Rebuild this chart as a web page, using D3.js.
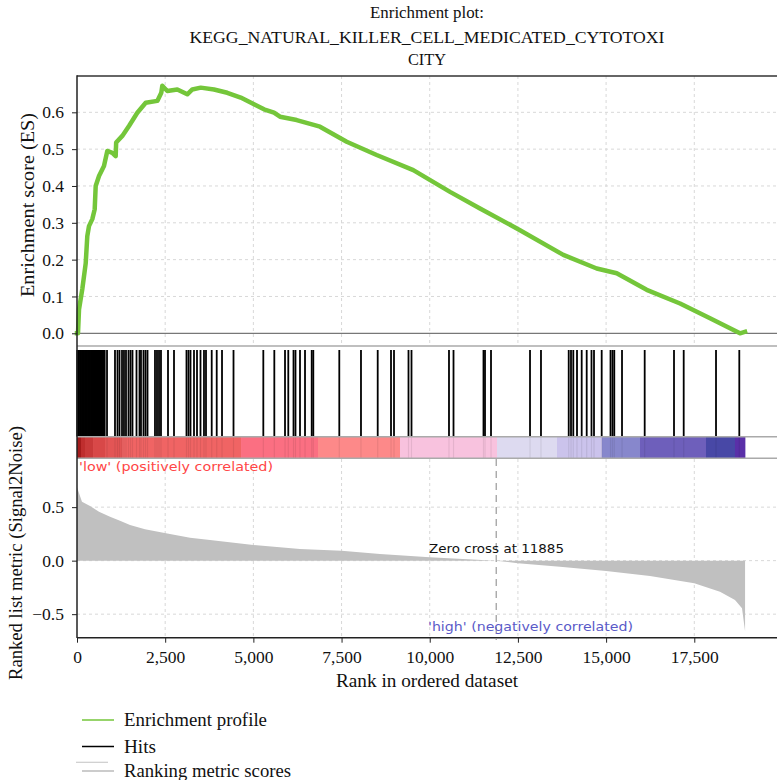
<!DOCTYPE html>
<html>
<head>
<meta charset="utf-8">
<script src="https://cdn.jsdelivr.net/npm/d3@7"></script>
<style>
  html, body { margin: 0; padding: 0; background: #fff; }
  svg { display: block; }
</style>
</head>
<body>
<svg id="chart" width="777" height="780"></svg>
<script>
// ---------- DATA ----------
const titleLines = ["Enrichment plot:", "KEGG_NATURAL_KILLER_CELL_MEDICATED_CYTOTOXI", "CITY"];

const xTicks = [0, 2500, 5000, 7500, 10000, 12500, 15000, 17500];
const esTicks = [0.0, 0.1, 0.2, 0.3, 0.4, 0.5, 0.6];
const metricTicks = [-0.5, 0.0, 0.5];

// Running enrichment score
const esRanks = [0, 28, 57, 150, 247, 292, 340, 434, 502, 530, 624, 765, 859, 1001, 1097, 1110, 1284, 1474, 1710, 1948, 2277, 2390, 2418, 2560, 2844, 3127, 3269, 3507, 3884, 4261, 4641, 5018, 5301, 5585, 5755, 6228, 6889, 7646, 8496, 9534, 10575, 11425, 12559, 13787, 14734, 15301, 16151, 17096, 17946, 18796, 18938];
const esValues = [0.0, 0.0, 0.065, 0.12, 0.19, 0.264, 0.291, 0.31, 0.337, 0.40, 0.427, 0.454, 0.495, 0.49, 0.481, 0.518, 0.536, 0.563, 0.599, 0.626, 0.631, 0.653, 0.672, 0.658, 0.662, 0.649, 0.662, 0.667, 0.662, 0.653, 0.640, 0.622, 0.608, 0.599, 0.588, 0.579, 0.561, 0.520, 0.484, 0.443, 0.384, 0.339, 0.280, 0.213, 0.176, 0.163, 0.118, 0.081, 0.041, 0.0, 0.004];

// Gene-set hits (ranks)
const hitRanks = [5, 30, 55, 85, 110, 140, 165, 195, 225, 250, 280, 310, 335, 365, 395, 420, 450, 480, 505, 535, 565, 590, 620, 650, 675, 705, 735, 760, 785,
  851, 1077, 1148, 1205, 1276, 1332, 1389, 1460, 1517, 1573, 1687, 1772, 1814, 1885, 1942, 1999, 2211, 2268, 2325, 2381, 2580, 2750,
  3104, 3161, 3218, 3317, 3402, 3501, 3600, 3657, 3819, 3961, 4111, 4437, 5282, 5594, 5897, 5990, 6138, 6194, 6322, 6464, 6654, 6699,
  7436, 8051, 8525, 8902, 8987, 9398, 9483, 10546, 10674, 11524, 11567, 11737, 12843, 13154, 13940, 14005, 14070, 14175, 14308, 14450,
  14586, 14657, 14875, 15125, 15181, 15232, 15451, 16094, 16925, 17200, 18116, 18776];

// Ranked list metric (Signal2Noise)
const metricRanks = [0, 141, 369, 624, 936, 1219, 1503, 1928, 2523, 3204, 3771, 5000, 6322, 7500, 8590, 10000, 11885, 12500, 13693, 15000, 16244, 17500, 18229, 18654, 18853, 18940];
const metricValues = [0.686, 0.551, 0.51, 0.458, 0.411, 0.374, 0.334, 0.293, 0.256, 0.215, 0.193, 0.147, 0.109, 0.093, 0.063, 0.032, 0.0, -0.024, -0.056, -0.096, -0.143, -0.211, -0.29, -0.367, -0.445, -0.66];

// Colour bar segments (start rank, colour)
const barStarts = [0, 113, 227, 454, 794, 1276, 4650, 6832, 9157, 11907, 13608, 14884, 15961, 17832, 18654];
const barColors = ["#a41c1c", "#bf2e2e", "#c93a3a", "#d84848", "#e35555", "#f06464", "#fb6f82", "#fd8989", "#f8c2de", "#dddaf0", "#cbc3ec", "#8787cc", "#6e5fbb", "#4848a6", "#5a30a8"];
const totalGenes = 18940;
const zeroCross = 11885;

const legendLabels = ["Enrichment profile", "Hits", "Ranking metric scores"];

// ---------- LAYOUT ----------
const svg = d3.select("#chart");
const serif = "'Liberation Serif', 'DejaVu Serif', serif";
const sans = "'DejaVu Sans', 'Liberation Sans', sans-serif";

const x = d3.scaleLinear().domain([0, 19845]).range([77, 777]);
const yES = d3.scaleLinear().domain([-0.0345, 0.6986]).range([346, 76]);
const yM = d3.scaleLinear().domain([-0.72, 0.95]).range([637.7, 459]);

const hitTop = 350, hitBottom = 436.5;
const barTop = 436.7, barBottom = 458.3;

// Title
const titleY = [18, 43, 65], titleLen = [114, 475, 38];
svg.append("g").selectAll("text").data(titleLines).join("text")
  .attr("x", 427).attr("y", (d, i) => titleY[i])
  .attr("text-anchor", "middle")
  .attr("textLength", (d, i) => titleLen[i]).attr("lengthAdjust", "spacingAndGlyphs")
  .style("font-family", serif).style("font-size", "17.5px").attr("fill", "#111")
  .text(d => d);

// Grid lines
const gridStyle = sel => sel.attr("stroke", "#d8d8d8").attr("stroke-width", 1).attr("stroke-dasharray", "3,3");
const gTop = svg.append("g");
gTop.selectAll("line.v").data(xTicks.filter(d => d > 0)).join("line")
  .attr("x1", d => x(d)).attr("x2", d => x(d)).attr("y1", 76).attr("y2", 346).call(gridStyle);
gTop.selectAll("line.h").data(esTicks.filter(d => d > 0)).join("line")
  .attr("x1", 77).attr("x2", 777).attr("y1", d => yES(d)).attr("y2", d => yES(d)).call(gridStyle);
const gBot = svg.append("g");
gBot.selectAll("line.v").data(xTicks.filter(d => d > 0)).join("line")
  .attr("x1", d => x(d)).attr("x2", d => x(d)).attr("y1", 459).attr("y2", 637.7).call(gridStyle);
gBot.selectAll("line.h").data(metricTicks).join("line")
  .attr("x1", 77).attr("x2", 777).attr("y1", d => yM(d)).attr("y2", d => yM(d)).call(gridStyle);

// Top panel reference lines
svg.append("line").attr("x1", 77).attr("x2", 777).attr("y1", yES(0)).attr("y2", yES(0))
  .attr("stroke", "#777").attr("stroke-width", 1.2);
svg.append("line").attr("x1", 77).attr("x2", 777).attr("y1", 346).attr("y2", 346)
  .attr("stroke", "#aaa").attr("stroke-width", 1.5);
svg.append("line").attr("x1", 77).attr("x2", 777).attr("y1", 76).attr("y2", 76)
  .attr("stroke", "#333").attr("stroke-width", 1.5);

// ES curve
const esData = esRanks.map((r, i) => [r, esValues[i]]);
svg.append("path").datum(esData)
  .attr("d", d3.line().x(d => x(d[0])).y(d => yES(d[1])))
  .attr("fill", "none").attr("stroke", "#74c63a").attr("stroke-width", 4.5)
  .attr("stroke-linejoin", "round").attr("stroke-linecap", "square");

// Hits
svg.append("g").selectAll("line").data(hitRanks).join("line")
  .attr("x1", d => x(d)).attr("x2", d => x(d))
  .attr("y1", hitTop).attr("y2", hitBottom)
  .attr("stroke", "#000").attr("stroke-width", 1.8);

// Colour bar
const barEnds = barStarts.slice(1).concat([totalGenes]);
svg.append("g").selectAll("rect").data(barStarts).join("rect")
  .attr("x", d => x(d)).attr("y", barTop)
  .attr("width", (d, i) => x(barEnds[i]) - x(d) + 0.3)
  .attr("height", barBottom - barTop)
  .attr("fill", (d, i) => barColors[i]);
svg.append("g").selectAll("line").data(hitRanks.filter(d => d > 800)).join("line")
  .attr("x1", d => x(d)).attr("x2", d => x(d))
  .attr("y1", barTop).attr("y2", barBottom)
  .attr("stroke", "#000").attr("stroke-opacity", 0.08).attr("stroke-width", 1.2);
[barTop, barBottom].forEach(yy => svg.append("line")
  .attr("x1", 77).attr("x2", 777).attr("y1", yy).attr("y2", yy)
  .attr("stroke", "#aaa").attr("stroke-width", 1.5));

// Ranked metric area
const mData = metricRanks.map((r, i) => [r, metricValues[i]]);
svg.append("path").datum(mData)
  .attr("d", d3.area().x(d => x(d[0])).y0(yM(0)).y1(d => yM(d[1])))
  .attr("fill", "#c0c0c0").attr("stroke", "none");

// Zero cross dashed line
svg.append("line").attr("x1", x(zeroCross)).attr("x2", x(zeroCross))
  .attr("y1", 459).attr("y2", 640)
  .attr("stroke", "#999").attr("stroke-width", 1.2).attr("stroke-dasharray", "7,5");

// Annotations
const annot = (tx, ty, len, col, str) => svg.append("text").attr("x", tx).attr("y", ty)
  .attr("textLength", len).attr("lengthAdjust", "spacingAndGlyphs")
  .style("font-family", sans).style("font-size", "13px").attr("fill", col).text(str);
annot(79, 471, 194, "#ff4646", "'low' (positively correlated)");
annot(429, 553, 135, "#111", "Zero cross at " + zeroCross);
annot(428, 631, 205, "#5a5ac8", "'high' (negatively correlated)");

// Axes
const axisFont = sel => sel.selectAll("text").style("font-family", serif).style("font-size", "17.5px").attr("fill", "#111");
const ayES = svg.append("g").attr("transform", "translate(77,0)")
  .call(d3.axisLeft(yES).tickValues(esTicks).tickFormat(d3.format(".1f")).tickSize(5).tickPadding(8));
ayES.select(".domain").remove();
ayES.call(axisFont);
const ayM = svg.append("g").attr("transform", "translate(77,0)")
  .call(d3.axisLeft(yM).tickValues(metricTicks).tickFormat(d3.format(".1f")).tickSize(5).tickPadding(8));
ayM.select(".domain").remove();
ayM.call(axisFont);
const ax = svg.append("g").attr("transform", "translate(0,637.7)")
  .call(d3.axisBottom(x).tickValues(xTicks).tickFormat(d3.format(",")).tickSize(5).tickPadding(8));
ax.select(".domain").remove();
ax.call(axisFont);
svg.selectAll(".tick line").attr("stroke", "#222");

svg.append("line").attr("x1", 77).attr("x2", 77).attr("y1", 75.3).attr("y2", 638)
  .attr("stroke", "#222").attr("stroke-width", 1.5);
svg.append("line").attr("x1", 77).attr("x2", 777).attr("y1", 637.7).attr("y2", 637.7)
  .attr("stroke", "#222").attr("stroke-width", 1.5);

// Axis titles
const axisTitle = (tr, len, str) => svg.append("text").attr("transform", tr)
  .attr("text-anchor", "middle").attr("textLength", len).attr("lengthAdjust", "spacingAndGlyphs")
  .style("font-family", serif).style("font-size", "19px").attr("fill", "#111").text(str);
axisTitle("translate(34,205) rotate(-90)", 184, "Enrichment score (ES)");
axisTitle("translate(21.5,553) rotate(-90)", 254, "Ranked list metric (Signal2Noise)");
axisTitle("translate(427,687)", 182, "Rank in ordered dataset");

// Legend
const lg = svg.append("g");
const legColors = ["#74c63a", "#000", "#bbb"];
const legY = [720, 746.5, 771];
const legLen = [143, 32, 167];
lg.selectAll("line.l").data(legendLabels).join("line")
  .attr("x1", 82).attr("x2", 114).attr("y1", (d, i) => legY[i]).attr("y2", (d, i) => legY[i])
  .attr("stroke", (d, i) => legColors[i]).attr("stroke-width", 1.5);
lg.append("line").attr("x1", 76).attr("x2", 108).attr("y1", 762.3).attr("y2", 762.3)
  .attr("stroke", "#ccc").attr("stroke-width", 1.2);
lg.selectAll("text").data(legendLabels).join("text")
  .attr("x", 124).attr("y", (d, i) => legY[i] + 6)
  .attr("textLength", (d, i) => legLen[i]).attr("lengthAdjust", "spacingAndGlyphs")
  .style("font-family", serif).style("font-size", "18.5px").attr("fill", "#111")
  .text(d => d);
</script>
</body>
</html>
